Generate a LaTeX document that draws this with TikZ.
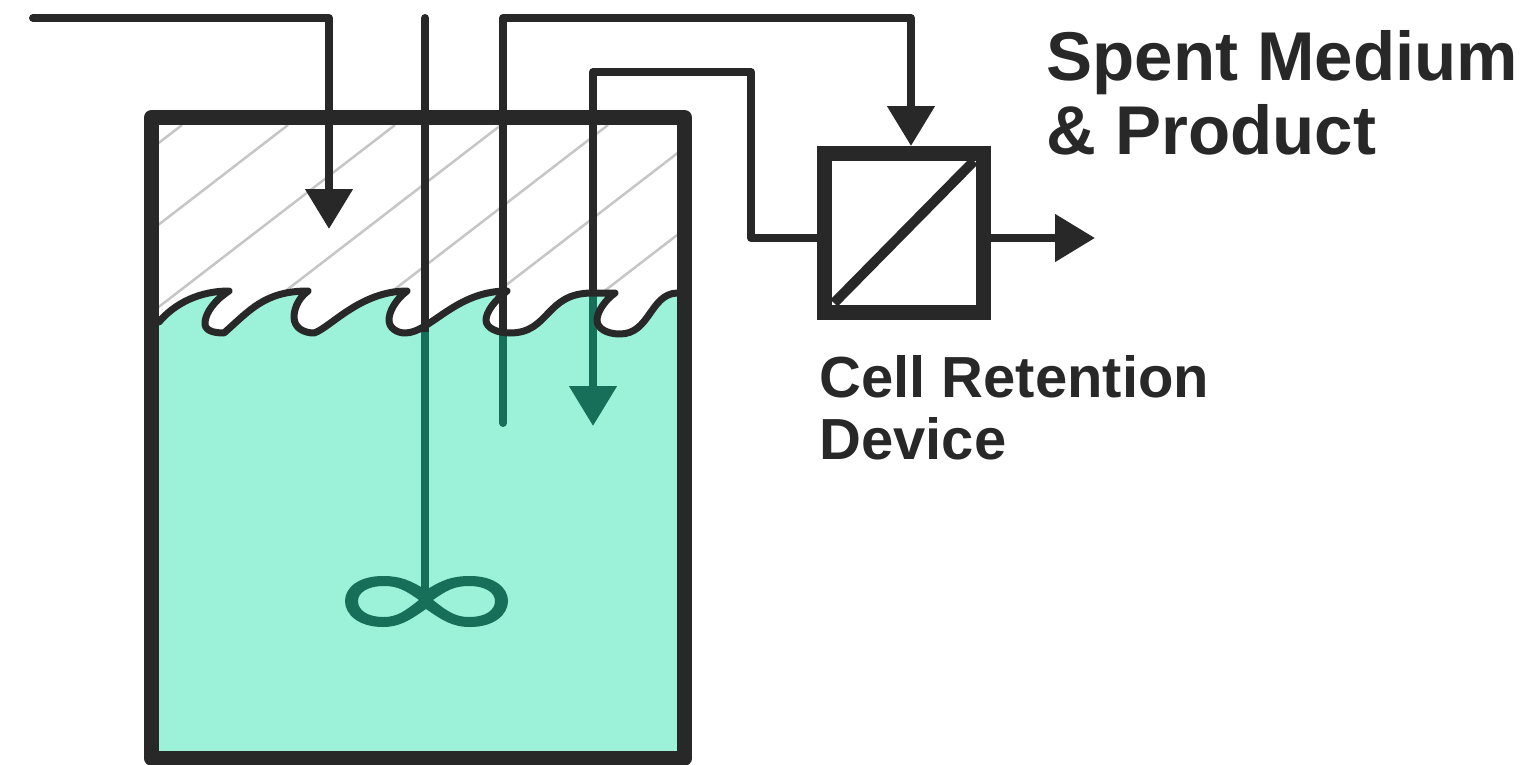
\documentclass[tikz,border=0pt]{standalone}
\usepackage{fontspec}
\setmainfont{Liberation Sans}
\usetikzlibrary{arrows.meta}
\definecolor{ink}{HTML}{282828}
\definecolor{water}{HTML}{9BF2D9}
\definecolor{deep}{HTML}{176F59}
\definecolor{hatchgray}{HTML}{C6C6C6}
\tikzset{
  pipe/.style={ink, line width=0.16cm, line join=round, line cap=round},
  deeppipe/.style={deep, line width=0.16cm, line cap=round},
  headtip/.style={-{Triangle[length=0.8cm,width=0.92cm]}},
  hatchline/.style={hatchgray, line width=0.05cm},
  wall/.style={ink, line width=0.3cm, line join=round},
  surface/.style={ink, line width=0.14cm, line join=round, line cap=round},
  bigtext/.style={ink, inner sep=0, anchor=north west, align=left, font=\bfseries\fontsize{39.3}{42.2}\selectfont},
  smalltext/.style={ink, inner sep=0, anchor=north west, align=left, font=\bfseries\fontsize{33}{35.2}\selectfont},
}
\newcommand{\wavepath}{
  .. controls (175,303) and (200,291) .. (229,291)
  .. controls (215,300) and (206,312) .. (205,322)
  .. controls (204,330) and (212,333) .. (224,333)
  .. controls (250,310) and (265,291) .. (308,291)
  .. controls (296,300) and (294,312) .. (294,317)
  .. controls (294,328) and (304,333) .. (314,333)
  .. controls (330,328) and (360,291) .. (407,291)
  .. controls (395,300) and (389,312) .. (389,320)
  .. controls (389,328) and (397,333) .. (405,333)
  .. controls (430,333) and (455,291) .. (507,291)
  .. controls (495,300) and (486,312) .. (486,320)
  .. controls (486,328) and (497,333) .. (510,333)
  .. controls (550,333) and (545,293) .. (592,293)
  -- (615,293)
  .. controls (605,300) and (597,312) .. (597,320)
  .. controls (597,328) and (606,334) .. (620,334)
  .. controls (650,334) and (650,294) .. (677,293)
}
\begin{document}
\begin{tikzpicture}[x=0.02cm,y=-0.02cm]
\useasboundingbox (0,0) rectangle (1527,764);
% gas space
\begin{scope}
\clip (159,125) rectangle (677,340);
\foreach \xtop in {182,288,395,501,608,714,820}
  \draw[hatchline] (\xtop,125) -- ++(-300,231);
\end{scope}
% liquid
\fill[water] (159,751) -- (159,322) \wavepath -- (677,751) -- cycle;
% connectors
\node[draw=ink, line width=0.3cm, minimum width=3.18cm, minimum height=3.18cm, inner sep=0] (membrane) at (904,233) {};
\coordinate (feedin) at (33,18);
\coordinate (feedtip) at (329,229);
\coordinate (stirtop) at (425,18);
\coordinate (stirhub) at (425,600);
\coordinate (stirwet) at (425,332);
\coordinate (spentend) at (503,423);
\coordinate (spentwet) at (503,335);
\coordinate (spentbend) at (911,18);
\coordinate (spenttip) at (911,146);
\coordinate (recyclewet) at (593,296);
\coordinate (recycletip) at (593,426);
\coordinate (recyclebend) at (751,72);
\coordinate (producttip) at (1095,238);
\draw[pipe,headtip] (feedin) -| (feedtip);
\draw[pipe] (stirtop) -- (stirwet);
\draw[deeppipe,line cap=butt] (stirwet) -- (stirhub);
\draw[pipe,headtip] (spentwet) |- (spentbend) -- (spenttip);
\draw[deeppipe] (spentwet) -- (spentend);
\draw[pipe,line cap=butt] (recyclewet) |- (recyclebend) |- (membrane.west |- 0,238);
\draw[deeppipe,line cap=butt,headtip] (recyclewet) -- (recycletip);
\draw[pipe,line cap=butt,headtip] (membrane.east |- 0,238) -- (producttip);
\draw[ink, line width=0.2cm] (834,303) -- (974,161);
% impeller
\fill[deep, even odd rule] (426,590) .. controls (410,580) and (400,576) .. (383,576)
  .. controls (358,576) and (345,588) .. (345,601)
  .. controls (345,614) and (358,627) .. (383,627)
  .. controls (400,627) and (410,620) .. (426,609)
  .. controls (442,620) and (452,627) .. (470,627)
  .. controls (495,627) and (508,614) .. (508,601)
  .. controls (508,588) and (495,576) .. (470,576)
  .. controls (452,576) and (442,580) .. (426,590) -- cycle
  (419,600) .. controls (405,590) and (397,586) .. (384,586)
  .. controls (367,586) and (358,593) .. (358,601)
  .. controls (358,610) and (367,617) .. (384,617)
  .. controls (397,617) and (405,611) .. (419,600) -- cycle
  (433,600) .. controls (447,590) and (455,586) .. (469,586)
  .. controls (486,586) and (495,593) .. (495,601)
  .. controls (495,610) and (486,617) .. (469,617)
  .. controls (455,617) and (447,611) .. (433,600) -- cycle;
% vessel
\draw[surface] (159,322) \wavepath;
\draw[wall] (151.5,758) rectangle (684.5,117.5);
% labels
\node[bigtext] (spentlabel) at (1046,30) {Spent Medium\\\& Product};
\node[smalltext] (devicelabel) at (819,355) {Cell Retention\\Device};
\end{tikzpicture}
\end{document}
